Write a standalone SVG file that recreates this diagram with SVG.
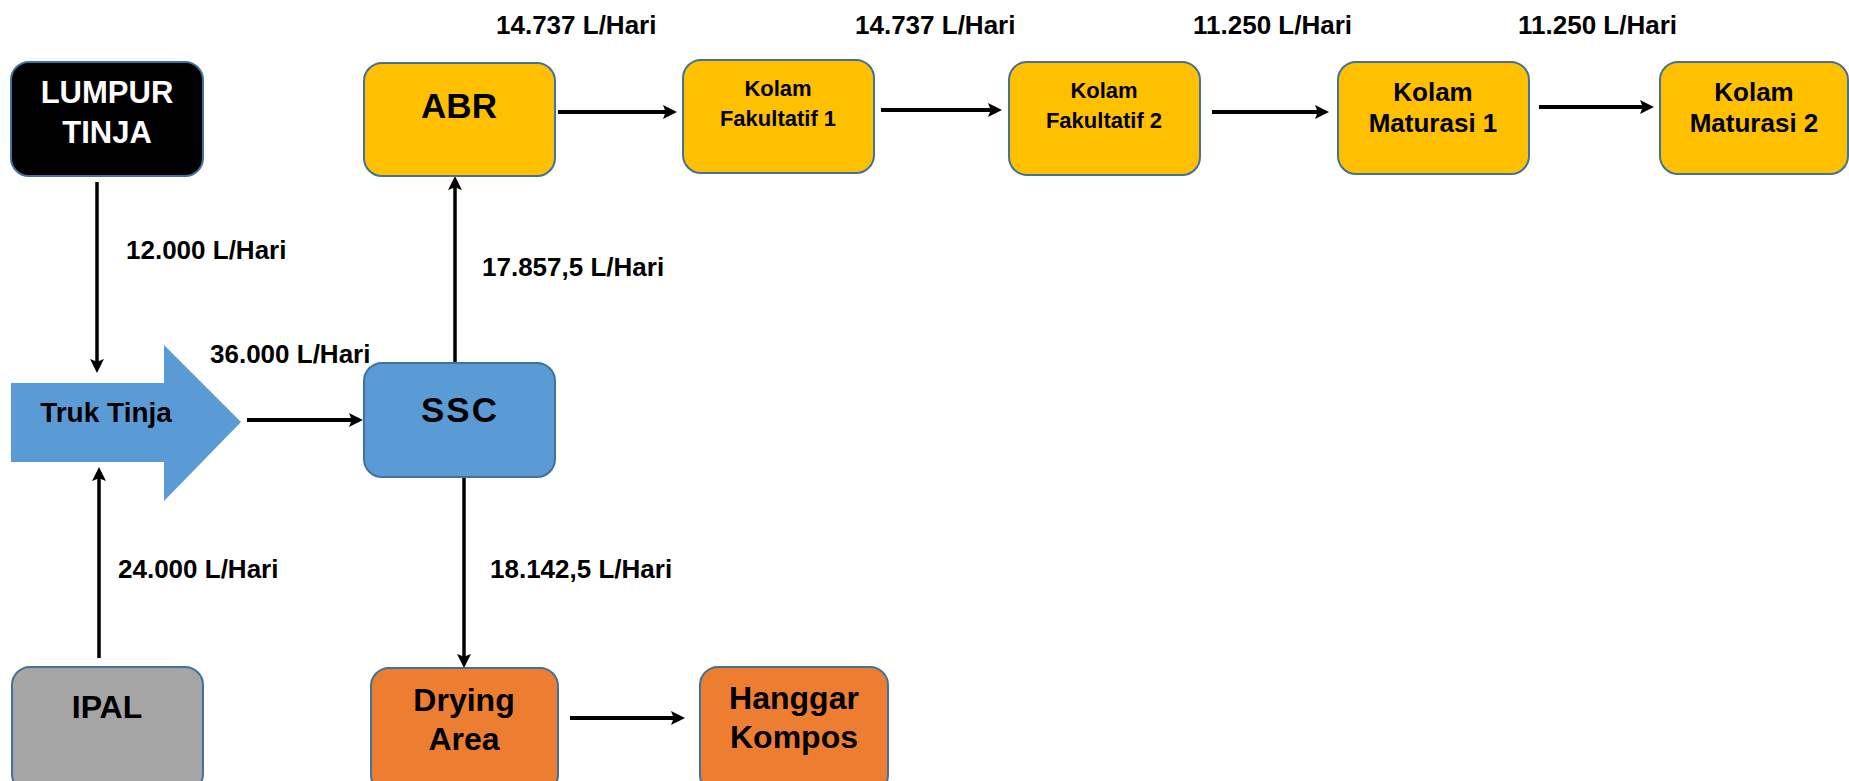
<svg xmlns="http://www.w3.org/2000/svg" width="1849" height="781" viewBox="0 0 1849 781">
<style>
.box{stroke:#41719C;stroke-width:2}
.y{fill:#FFC000}.b{fill:#5B9BD5}.o{fill:#ED7D31}.g{fill:#A5A5A5}.k{fill:#000}
text{font-family:"Liberation Sans",Arial,sans-serif;font-weight:bold;fill:#000}
.t{text-anchor:middle}
.lbl{font-size:26px}
.c{stroke:#000;stroke-width:4;fill:none;marker-end:url(#ah)}
.cv{stroke:#000;stroke-width:3.5;fill:none;marker-end:url(#ah)}
</style>
<defs>
<marker id="ah" viewBox="0 0 10 10" refX="4.3" refY="5" markerWidth="14" markerHeight="14" markerUnits="userSpaceOnUse" orient="auto">
<path d="M0,0 L10,5 L0,10 L2,5 z" fill="#000"/>
</marker>
</defs>
<rect width="1849" height="781" fill="#fff"/>

<g id="connectors">
<line class="cv" x1="97" y1="182" x2="97" y2="365"/>
<line class="cv" x1="99" y1="658" x2="99" y2="475"/>
<line class="c" x1="247" y1="420" x2="355" y2="420"/>
<line class="cv" x1="455" y1="363" x2="455" y2="184"/>
<line class="cv" x1="464" y1="477" x2="464" y2="660"/>
<line class="c" x1="558" y1="112" x2="669" y2="112"/>
<line class="c" x1="881" y1="110" x2="994" y2="110"/>
<line class="c" x1="1212" y1="112" x2="1321" y2="112"/>
<line class="c" x1="1539" y1="107" x2="1646" y2="107"/>
<line class="c" x1="570" y1="718" x2="677" y2="718"/>
</g>

<g id="labels">
<text class="lbl" x="126" y="259">12.000 L/Hari</text>
<text class="lbl" x="482" y="276">17.857,5 L/Hari</text>
<text class="lbl" x="210" y="363">36.000 L/Hari</text>
<text class="lbl" x="118" y="578">24.000 L/Hari</text>
<text class="lbl" x="490" y="578">18.142,5 L/Hari</text>
<text class="lbl" x="496" y="34">14.737 L/Hari</text>
<text class="lbl" x="855" y="34">14.737 L/Hari</text>
<text class="lbl" x="1193" y="34">11.250 L/Hari</text>
<text class="lbl" x="1518" y="34">11.250 L/Hari</text>
</g>

<g id="lumpur-tinja">
<rect class="box k" x="11" y="62" width="192" height="114" rx="18"/>
<text class="t" x="107" y="103" font-size="31" style="fill:#fff">LUMPUR</text>
<text class="t" x="107" y="143" font-size="31" style="fill:#fff">TINJA</text>
</g>

<g id="truk-tinja">
<path class="b" d="M11,383 H164 V345 L241,422 L164,501 V462 H11 Z"/>
<text class="t" x="106" y="422" font-size="28">Truk Tinja</text>
</g>

<g id="ipal">
<rect class="box g" x="12" y="667" width="191" height="125" rx="18"/>
<text class="t" x="107" y="718" font-size="32">IPAL</text>
</g>

<g id="ssc">
<rect class="box b" x="364" y="363" width="191" height="114" rx="18"/>
<text class="t" x="460" y="422" font-size="35" letter-spacing="2">SSC</text>
</g>

<g id="abr">
<rect class="box y" x="364" y="63" width="191" height="113" rx="18"/>
<text class="t" x="459" y="118" font-size="35">ABR</text>
</g>

<g id="kolam-fakultatif-1">
<rect class="box y" x="683" y="60" width="191" height="113" rx="18"/>
<text class="t" x="778" y="96" font-size="22">Kolam</text>
<text class="t" x="778" y="126" font-size="22">Fakultatif 1</text>
</g>

<g id="kolam-fakultatif-2">
<rect class="box y" x="1009" y="62" width="191" height="113" rx="18"/>
<text class="t" x="1104" y="98" font-size="22">Kolam</text>
<text class="t" x="1104" y="128" font-size="22">Fakultatif 2</text>
</g>

<g id="kolam-maturasi-1">
<rect class="box y" x="1338" y="62" width="191" height="112" rx="18"/>
<text class="t" x="1433" y="101" font-size="26">Kolam</text>
<text class="t" x="1433" y="132" font-size="26">Maturasi 1</text>
</g>

<g id="kolam-maturasi-2">
<rect class="box y" x="1660" y="62" width="188" height="112" rx="18"/>
<text class="t" x="1754" y="101" font-size="26">Kolam</text>
<text class="t" x="1754" y="132" font-size="26">Maturasi 2</text>
</g>

<g id="drying-area">
<rect class="box o" x="371" y="668" width="187" height="125" rx="18"/>
<text class="t" x="464" y="711" font-size="32">Drying</text>
<text class="t" x="464" y="750" font-size="32">Area</text>
</g>

<g id="hanggar-kompos">
<rect class="box o" x="700" y="667" width="188" height="126" rx="18"/>
<text class="t" x="794" y="709" font-size="32">Hanggar</text>
<text class="t" x="794" y="748" font-size="32">Kompos</text>
</g>
</svg>
